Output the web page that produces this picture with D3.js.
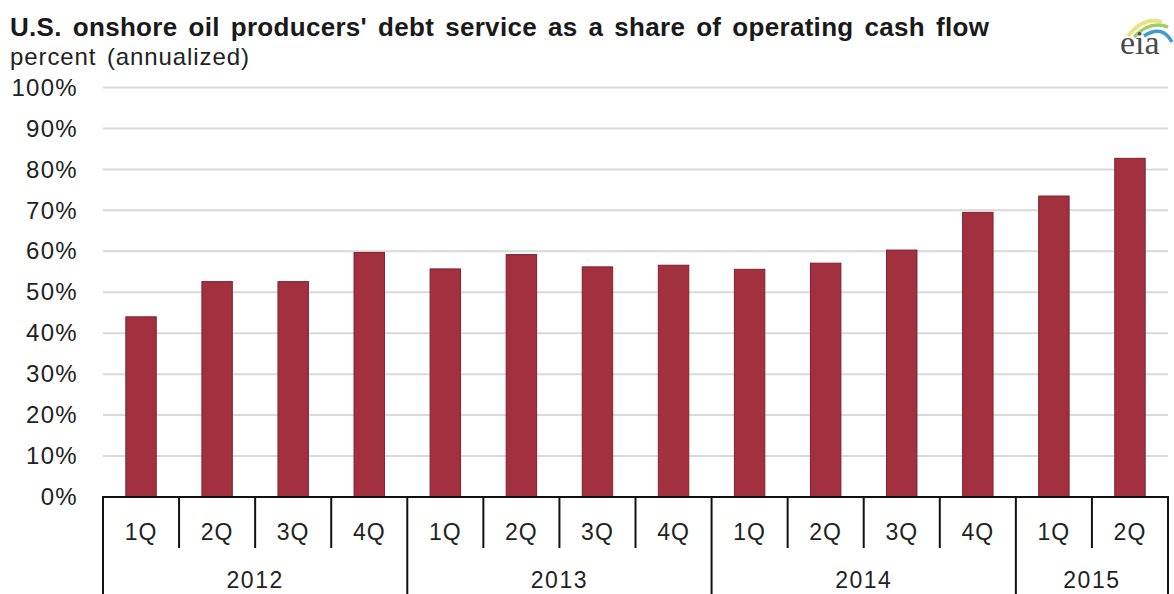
<!DOCTYPE html>
<html>
<head>
<meta charset="utf-8">
<script src="https://cdn.jsdelivr.net/npm/d3@7"></script>
<style>
  html, body { margin: 0; padding: 0; background: #fff; }
  svg { display: block; font-family: "Liberation Sans", Arial, sans-serif; }
</style>
</head>
<body>
<svg id="chart" width="1174" height="594"></svg>
<script>
// ---- data ----
const quarters = ["1Q","2Q","3Q","4Q","1Q","2Q","3Q","4Q","1Q","2Q","3Q","4Q","1Q","2Q"];
const years = ["2012","2012","2012","2012","2013","2013","2013","2013","2014","2014","2014","2014","2015","2015"];
const values = [44.0, 52.6, 52.6, 59.7, 55.7, 59.2, 56.2, 56.6, 55.6, 57.1, 60.3, 69.5, 73.5, 82.7];
const yTicks = [0, 10, 20, 30, 40, 50, 60, 70, 80, 90, 100];
const titleText = "U.S. onshore oil producers' debt service as a share of operating cash flow";
const subtitleText = "percent (annualized)";

// ---- layout ----
const svg = d3.select("#chart");
const x0 = 103, x1 = 1168, yBase = 497, yTop = 87.5;
const ids = values.map((d, i) => i);

const x = d3.scaleBand().domain(ids).range([x0, x1]).paddingInner(0).paddingOuter(0);
const xBar = d3.scaleBand().domain(ids).range([x0, x1]).paddingInner(0.6).paddingOuter(0.3);
const y = d3.scaleLinear().domain([0, 100]).range([yBase, yTop]);

// title
svg.append("text").attr("x", 10).attr("y", 36)
  .attr("font-size", 26).attr("font-weight", "bold").attr("fill", "#1a1a1a")
  .attr("letter-spacing", 0.3).attr("word-spacing", 3.5)
  .text(titleText);
svg.append("text").attr("x", 10).attr("y", 65)
  .attr("font-size", 24).attr("fill", "#222")
  .attr("letter-spacing", 0.9).attr("word-spacing", 3)
  .text(subtitleText);

// gridlines
svg.append("g").selectAll("line").data(yTicks.filter(d => d > 0)).join("line")
  .attr("x1", x0).attr("x2", x1)
  .attr("y1", d => y(d)).attr("y2", d => y(d))
  .attr("stroke", "#d9d9d9").attr("stroke-width", 2);

// y axis labels
const yAxis = d3.axisLeft(y).tickValues(yTicks).tickFormat(d => d + "%").tickSize(0).tickPadding(0);
const gy = svg.append("g").attr("transform", "translate(78,0)").call(yAxis);
gy.select(".domain").remove();
gy.selectAll("text").attr("font-size", 24).attr("fill", "#222")
  .attr("font-family", "'Liberation Sans', Arial, sans-serif")
  .attr("letter-spacing", 1.3);

// bars
svg.append("g").selectAll("rect").data(values).join("rect")
  .attr("x", (d, i) => xBar(i))
  .attr("width", xBar.bandwidth())
  .attr("y", d => y(d))
  .attr("height", d => yBase - y(d))
  .attr("fill", "#a3303f")
  .attr("stroke", "#7d2230").attr("stroke-width", 1);

// category axis
const ax = svg.append("g").attr("stroke", "#111").attr("stroke-width", 2);
ax.append("line").attr("x1", x0 - 1).attr("x2", x1 + 1).attr("y1", yBase).attr("y2", yBase);
const bounds = d3.range(quarters.length + 1);
ax.selectAll("line.b").data(bounds).join("line").attr("class", "b")
  .attr("x1", i => i < quarters.length ? x(i) : x1)
  .attr("x2", i => i < quarters.length ? x(i) : x1)
  .attr("y1", yBase)
  .attr("y2", i => (i === 0 || i === quarters.length || years[i] !== years[i - 1]) ? 594 : 548);

// quarter labels
svg.append("g").selectAll("text").data(quarters).join("text")
  .attr("x", (d, i) => x(i) + x.bandwidth() / 2)
  .attr("y", 540)
  .attr("text-anchor", "middle").attr("font-size", 23).attr("fill", "#222")
  .attr("letter-spacing", 1)
  .text(d => d);

// year labels
const yearGroups = d3.groups(ids, i => years[i]);
svg.append("g").selectAll("text").data(yearGroups).join("text")
  .attr("x", d => (x(d[1][0]) + x(d[1][d[1].length - 1]) + x.bandwidth()) / 2)
  .attr("y", 588)
  .attr("text-anchor", "middle").attr("font-size", 23).attr("fill", "#222")
  .attr("letter-spacing", 1.5)
  .text(d => d[0]);

// eia logo
const logo = svg.append("g").attr("transform", "translate(1118,10)");
logo.append("path").attr("d", "M10,26 Q26,6 44,12").attr("fill", "none").attr("stroke", "#ece07a").attr("stroke-width", 3.5);
logo.append("path").attr("d", "M16,27 Q32,10 50,17").attr("fill", "none").attr("stroke", "#9fcf64").attr("stroke-width", 3.5);
logo.append("path").attr("d", "M26,26 Q44,14 54,32").attr("fill", "none").attr("stroke", "#3d9bd4").attr("stroke-width", 3.5);
logo.append("text").attr("x", 2).attr("y", 44)
  .attr("font-family", "'Liberation Serif', 'DejaVu Serif', serif")
  .attr("font-size", 34).attr("fill", "#4a4a4a").text("eia");
</script>
</body>
</html>
